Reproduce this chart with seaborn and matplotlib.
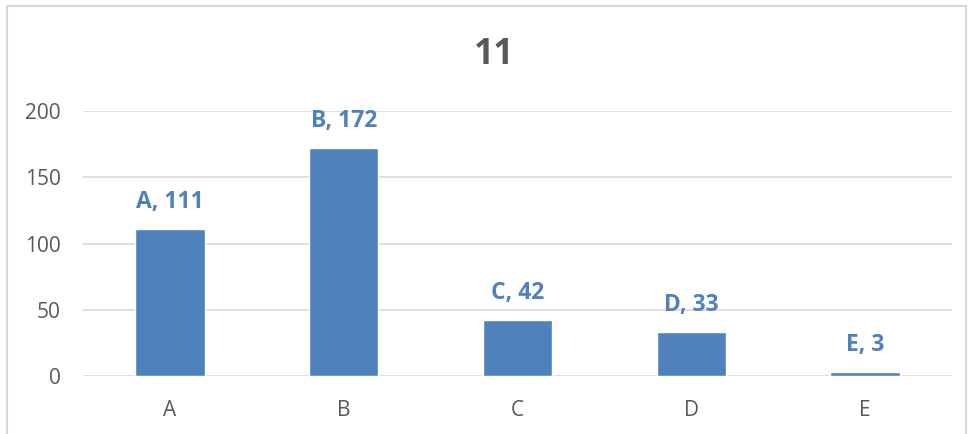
import pandas as pd
import seaborn as sns
import matplotlib.pyplot as plt
from matplotlib.patches import Rectangle

# Data
categories = ['A', 'B', 'C', 'D', 'E']
values = [111, 172, 42, 33, 3]
title = '11'

df = pd.DataFrame({'cat': categories, 'val': values})

sns.set_style('white')
plt.rcParams['font.family'] = ['Open Sans', 'DejaVu Sans']

bar_color = '#4F81BD'
text_gray = '#595959'
grid_gray = '#D9D9D9'

fig = plt.figure(figsize=(9.69, 4.34), dpi=100)
ax = fig.add_axes([83 / 969, 1 - 376 / 434, (952 - 83) / 969, (376 - 111) / 434])

sns.barplot(data=df, x='cat', y='val', color=bar_color, saturation=1,
            width=0.4, ax=ax, zorder=3)

ax.set_ylim(0, 200)
ax.set_yticks([0, 50, 100, 150, 200])
ax.set_xlim(-0.5, len(categories) - 0.5)
ax.set_xlabel('')
ax.set_ylabel('')

# Gridlines
ax.grid(axis='y', color=grid_gray, linewidth=1.2, zorder=0)
ax.grid(axis='x', visible=False)
for s in ax.spines.values():
    s.set_visible(False)

ax.tick_params(axis='both', length=0, labelsize=15, labelcolor=text_gray)
ax.tick_params(axis='y', pad=16)
ax.tick_params(axis='x', pad=17)

# Data labels "A, 111"
for p, c, v in zip(ax.patches, categories, values):
    ax.annotate(f'{c}, {v}',
                (p.get_x() + p.get_width() / 2, p.get_height()),
                xytext=(0, 19.5), textcoords='offset points',
                ha='center', va='center', fontsize=16.5,
                fontweight='bold', color=bar_color)

# Title
fig.text(494 / 969, 1 - 55 / 434, title, ha='center', va='center',
         fontsize=25.5, fontweight='bold', color=text_gray)

# Chart frame
fig.patches.append(Rectangle((7 / 969, -0.1), (966 - 7) / 969, 1 - 6 / 434 + 0.1,
                             transform=fig.transFigure, fill=False,
                             edgecolor=grid_gray, linewidth=1.5))

fig.savefig('out.png', dpi=100)
